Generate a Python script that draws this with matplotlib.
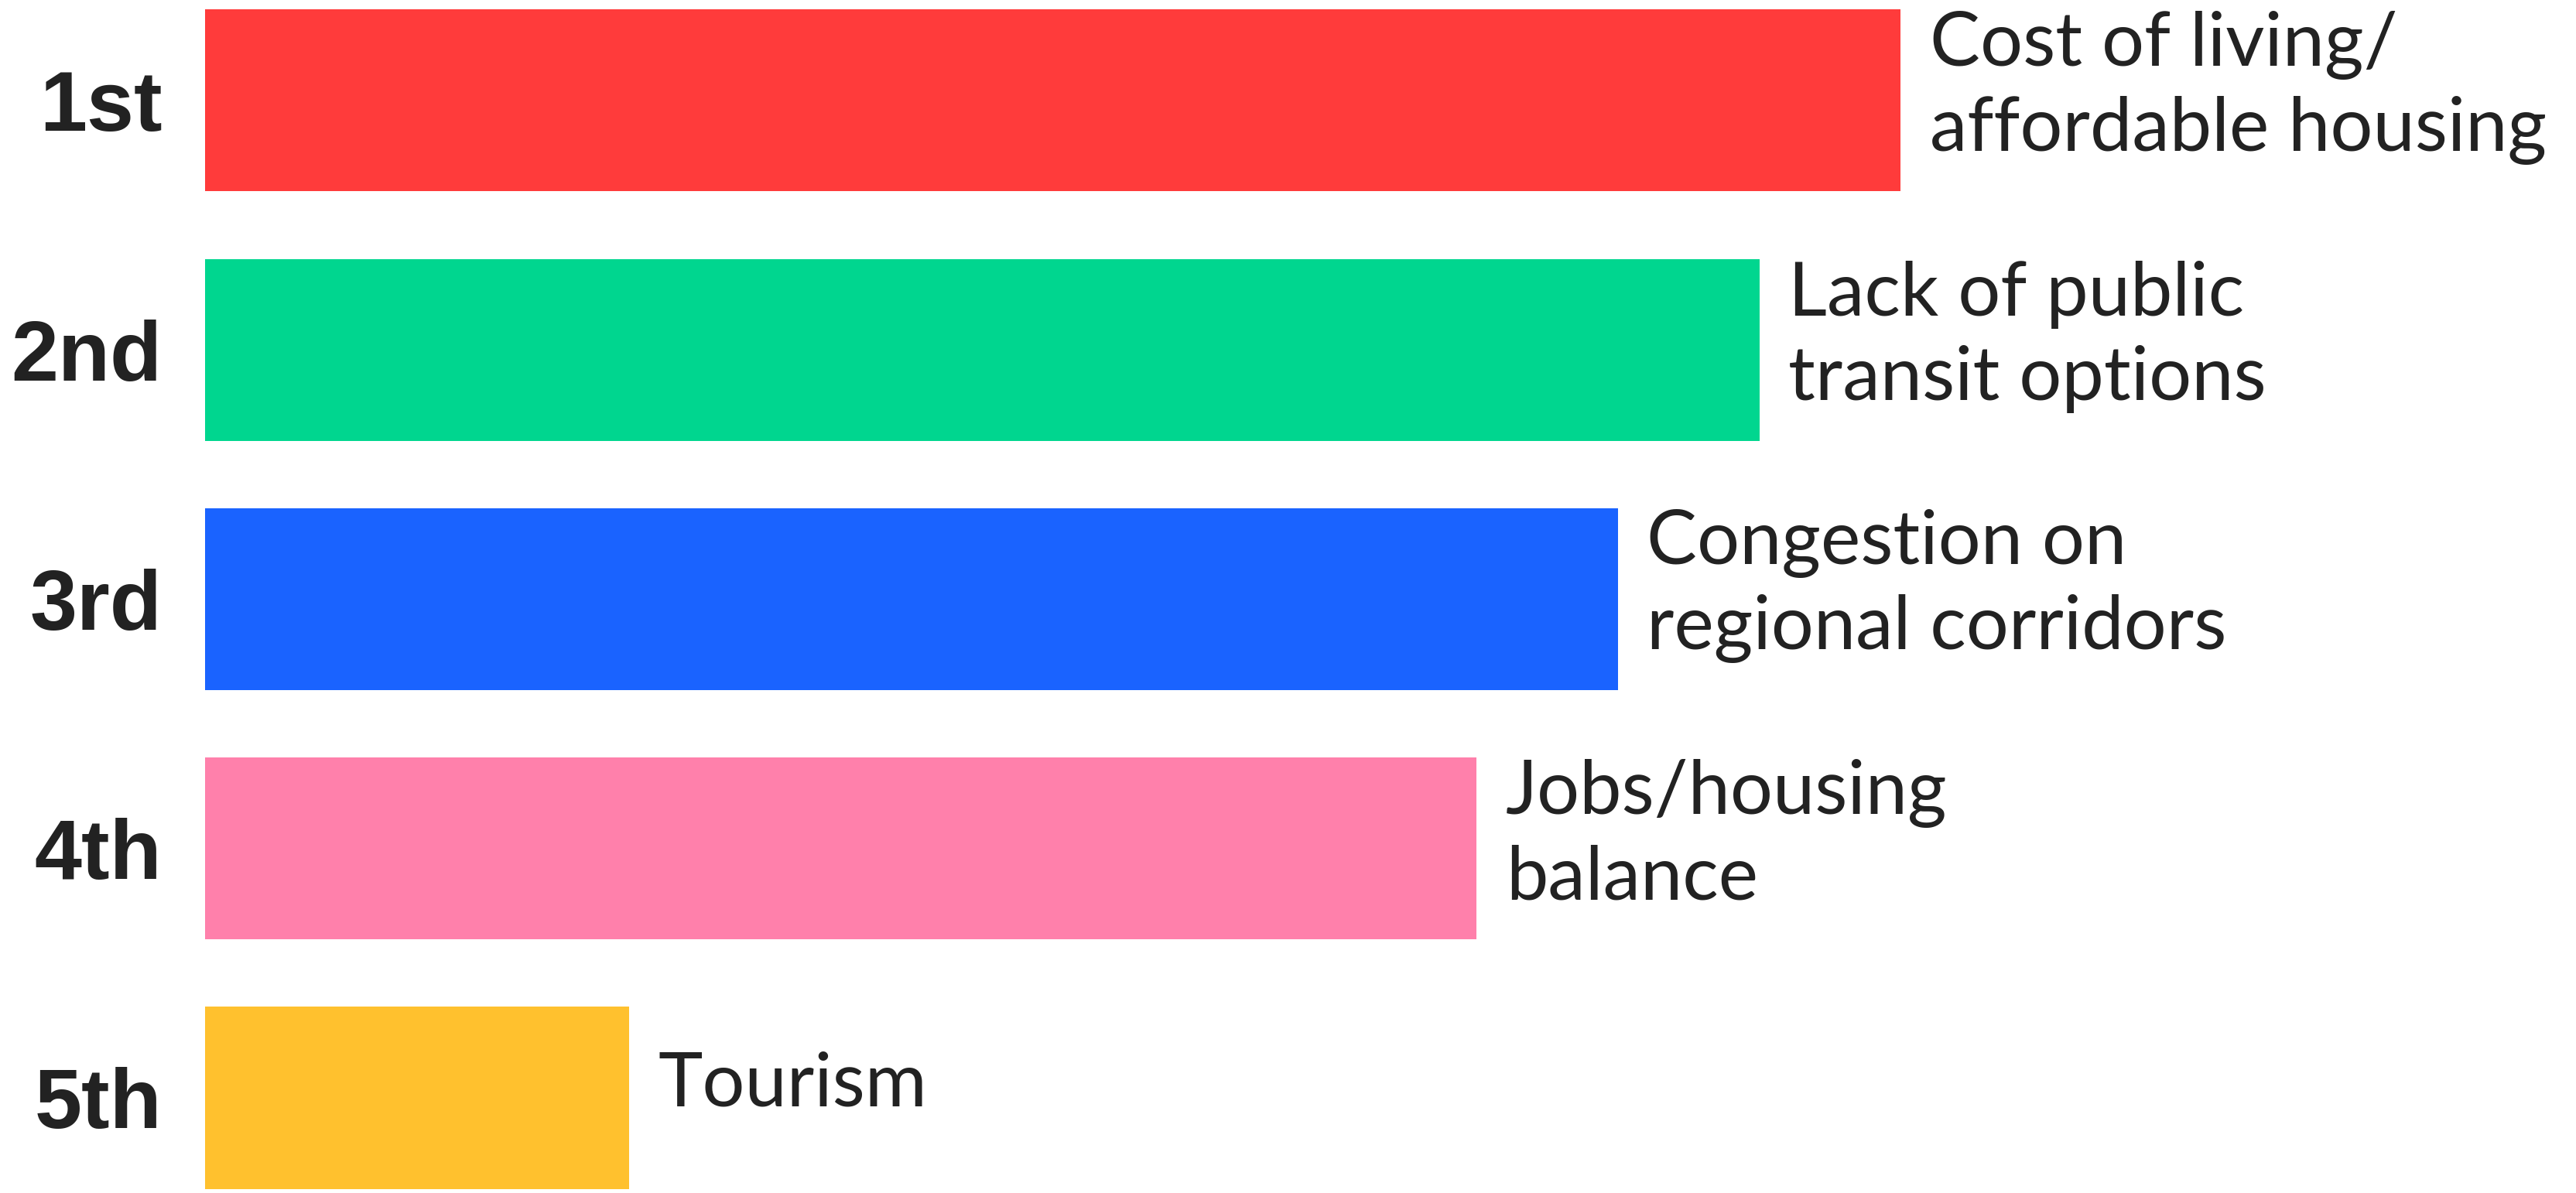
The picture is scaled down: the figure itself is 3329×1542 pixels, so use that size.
import matplotlib
matplotlib.use("Agg")
import matplotlib.pyplot as plt

ranks = ["1st", "2nd", "3rd", "4th", "5th"]
issues = ["Cost of living/\naffordable housing",
          "Lack of public\ntransit options",
          "Congestion on\nregional corridors",
          "Jobs/housing\nbalance",
          "Tourism"]
scores = [12, 11, 10, 9, 3]
colors = ["#FF3B3B", "#00D68F", "#1A63FF", "#FF80AB", "#FFC12E"]

W, H = 3329, 1542
fig = plt.figure(figsize=(W / 100, H / 100), dpi=100)
left_px = 265
ax = fig.add_axes([left_px / W, 0, 1 - left_px / W, 1])
ypos = list(range(len(ranks)))
ax.barh(ypos, scores, height=0.73, color=colors, edgecolor="none")

ax.set_xlim(0, (W - left_px) / 182.6)
ax.set_ylim(4.382, -0.403)

ax.set_yticks(ypos)
ax.set_yticklabels(ranks, fontsize=79, fontweight="bold",
                   family=["Liberation Sans", "DejaVu Sans"], color="#222222")
ax.tick_params(axis="y", length=0, pad=40)
ax.set_xticks([])
for s in ax.spines.values():
    s.set_visible(False)

for y, v, t in zip(ypos, scores, issues):
    ax.annotate(t, xy=(v, y), xytext=(27, 12), textcoords="offset points",
                ha="left", va="center", fontsize=70, color="#222222",
                family=["Lato", "DejaVu Sans"], linespacing=1.3)

fig.savefig("out.png", dpi=100, facecolor="white")
